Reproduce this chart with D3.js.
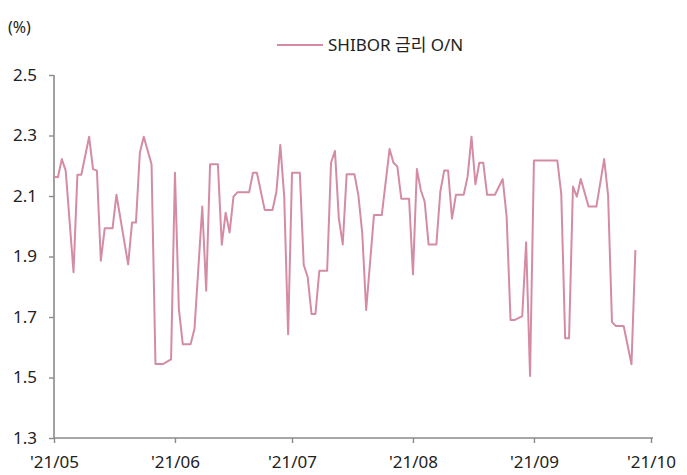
<!DOCTYPE html>
<html><head><meta charset="utf-8">
<script src="https://cdn.jsdelivr.net/npm/d3@7"></script>
<style>
html,body{margin:0;padding:0;background:#fff;}
text{font-family:"Noto Sans","Noto Sans CJK KR",sans-serif;fill:#222;}
</style></head>
<body><svg id="c" width="687" height="475"></svg>
<script>
const dates = ["2021-05-01","2021-05-02","2021-05-03","2021-05-04","2021-05-06","2021-05-07","2021-05-08","2021-05-10","2021-05-11","2021-05-12","2021-05-13","2021-05-14","2021-05-16","2021-05-17","2021-05-20","2021-05-21","2021-05-22","2021-05-23","2021-05-24","2021-05-26","2021-05-27","2021-05-29","2021-05-31",
"2021-06-01","2021-06-02","2021-06-03","2021-06-05","2021-06-06","2021-06-08","2021-06-09","2021-06-10","2021-06-12","2021-06-13","2021-06-14","2021-06-15","2021-06-16","2021-06-17","2021-06-20","2021-06-21","2021-06-22","2021-06-24","2021-06-26","2021-06-27","2021-06-28","2021-06-29","2021-06-30",
"2021-07-01","2021-07-03","2021-07-04","2021-07-05","2021-07-06","2021-07-07","2021-07-08","2021-07-10","2021-07-11","2021-07-12","2021-07-13","2021-07-14","2021-07-15","2021-07-17","2021-07-18","2021-07-19","2021-07-20","2021-07-22","2021-07-24","2021-07-26","2021-07-27","2021-07-28","2021-07-29","2021-07-31",
"2021-08-01","2021-08-02","2021-08-03","2021-08-04","2021-08-05","2021-08-07","2021-08-08","2021-08-09","2021-08-10","2021-08-11","2021-08-12","2021-08-14","2021-08-15","2021-08-16","2021-08-17","2021-08-18","2021-08-19","2021-08-20","2021-08-22","2021-08-24","2021-08-25","2021-08-26","2021-08-27","2021-08-29","2021-08-30","2021-08-31",
"2021-09-01","2021-09-07","2021-09-08","2021-09-09","2021-09-10","2021-09-11","2021-09-12","2021-09-13","2021-09-15","2021-09-17","2021-09-19","2021-09-20","2021-09-21","2021-09-22","2021-09-24","2021-09-26","2021-09-27"];
const shiborON = [2.164,2.162,2.222,2.184,1.848,2.170,2.170,2.296,2.189,2.184,1.886,1.993,1.993,2.104,1.874,2.012,2.012,2.243,2.296,2.205,1.545,1.545,1.560,
2.177,1.727,1.610,1.610,1.660,2.065,1.787,2.205,2.205,1.939,2.045,1.979,2.098,2.112,2.112,2.177,2.177,2.054,2.054,2.114,2.269,2.098,1.643,
2.177,2.177,1.872,1.833,1.710,1.710,1.853,1.853,2.210,2.249,2.026,1.940,2.172,2.172,2.103,1.977,1.723,2.037,2.037,2.255,2.210,2.197,2.091,2.091,
1.841,2.189,2.120,2.081,1.940,1.940,2.114,2.184,2.184,2.025,2.104,2.104,2.164,2.296,2.139,2.210,2.210,2.104,2.104,2.156,2.032,1.690,1.690,1.703,1.947,1.505,
2.217,2.217,2.107,1.630,1.630,2.131,2.098,2.156,2.065,2.065,2.222,2.103,1.683,1.670,1.670,1.544,1.921];
const yTicks = [1.3,1.5,1.7,1.9,2.1,2.3,2.5];
const xStart = "2021-05-01", xEnd = "2021-10-01";
const seriesName = "SHIBOR 금리 O/N";
const unitLabel = "(%)";

const parse = d3.timeParse("%Y-%m-%d");
const data = dates.map((d,i)=>({date:parse(d), v:shiborON[i]}));
const svg = d3.select("#c");
const lineColor = "#d48ca5", axisColor = "#8a8a8a";

const x = d3.scaleTime().domain([parse(xStart), parse(xEnd)]).range([54, 651]);
const y = d3.scaleLinear().domain([1.3, 2.5]).range([438, 75]);

// x axis
const xa = svg.append("g").attr("transform","translate(0,438)")
  .call(d3.axisBottom(x).ticks(d3.timeMonth.every(1)).tickFormat(d3.timeFormat("'%y/%m")).tickSize(5).tickSizeOuter(0).tickPadding(13));
xa.select(".domain").remove();
xa.append("line").attr("x1",54).attr("x2",653).attr("y1",0).attr("y2",0).attr("stroke",axisColor).attr("stroke-width",1.6);
xa.selectAll(".tick line").attr("stroke",axisColor).attr("stroke-width",1.4);
xa.selectAll(".tick text").attr("font-size",17).attr("fill","#222");

// y axis
const ya = svg.append("g").attr("transform","translate(54,0)")
  .call(d3.axisLeft(y).tickValues(yTicks).tickFormat(d3.format(".1f")).tickSize(5).tickSizeOuter(0).tickPadding(12));
ya.select(".domain").remove();
ya.append("line").attr("x1",0).attr("x2",0).attr("y1",75).attr("y2",438).attr("stroke",axisColor).attr("stroke-width",1.6);
ya.selectAll(".tick line").attr("stroke",axisColor).attr("stroke-width",1.4);
ya.selectAll(".tick text").attr("font-size",17).attr("fill","#222");

// line
svg.append("path").datum(data)
  .attr("fill","none").attr("stroke",lineColor).attr("stroke-width",2).attr("stroke-linejoin","round")
  .attr("d", d3.line().x(d=>x(d.date)).y(d=>y(d.v)));

// unit label
svg.append("text").attr("x",8).attr("y",33).attr("font-size",16).text(unitLabel);

// legend
svg.append("line").attr("x1",277).attr("x2",323).attr("y1",45).attr("y2",45).attr("stroke",lineColor).attr("stroke-width",2);
svg.append("text").attr("x",328).attr("y",51).attr("font-size",17).text(seriesName);
</script></body></html>
